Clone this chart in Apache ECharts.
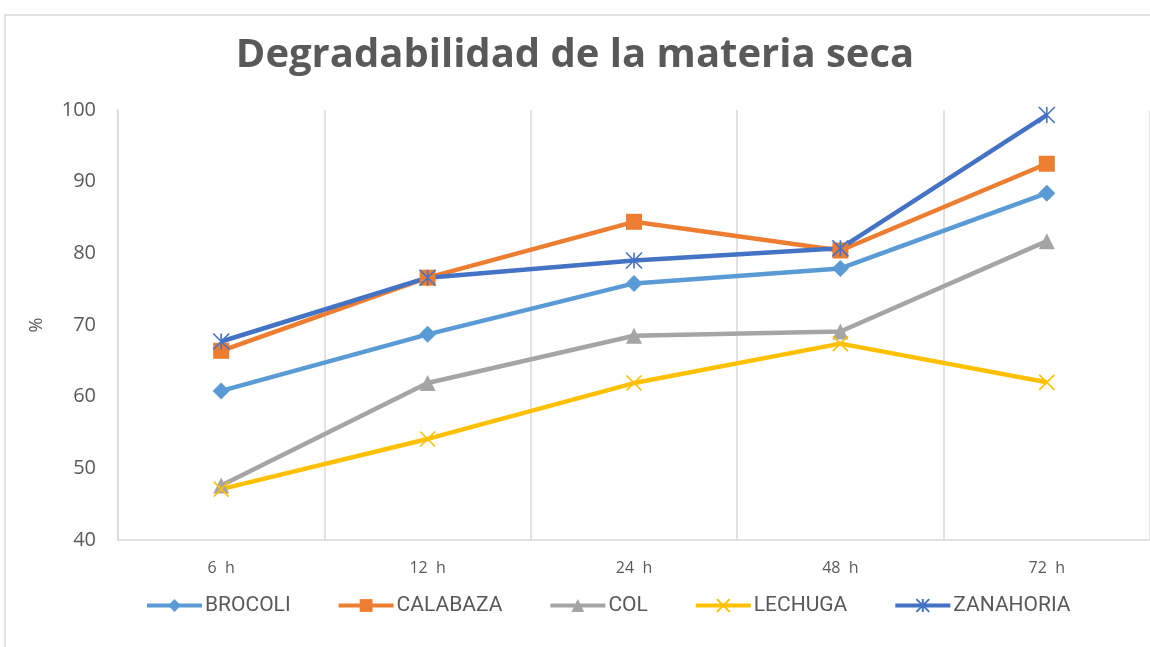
<!DOCTYPE html>
<html>
<head>
<meta charset="utf-8">
<script src="https://cdn.jsdelivr.net/npm/echarts@6/dist/echarts.min.js"></script>
<style>
html, body { margin: 0; padding: 0; background: #fff; }
#chart { width: 1150px; height: 647px; }
</style>
</head>
<body>
<div id="chart"></div>
<script>
// datos
const horas = ['6  h', '12  h', '24  h', '48  h', '72  h'];
const brocoli = [60.8, 68.7, 75.8, 77.9, 88.4];
const calabaza = [66.4, 76.6, 84.4, 80.4, 92.5];
const col = [47.6, 61.9, 68.5, 69.1, 81.7];
const lechuga = [47.1, 54.1, 61.9, 67.4, 62.0];
const zanahoria = [67.7, 76.6, 79.0, 80.7, 99.3];

const simboloX = 'path://M0,0L10,10M10,0L0,10';
const simboloAsterisco = 'path://M5,0L5,10M0,0L10,10M10,0L0,10';

const chart = echarts.init(document.getElementById('chart'));

function serie(nombre, datos, color, symbol, size, stroke) {
  return {
    name: nombre,
    type: 'line',
    data: datos,
    symbol: symbol,
    symbolSize: size,
    showAllSymbol: true,
    lineStyle: { color: color, width: 4.5 },
    itemStyle: stroke
      ? { color: 'rgba(0,0,0,0)', borderColor: color, borderWidth: 1.6 }
      : { color: color, borderWidth: 0 },
    emphasis: { disabled: true }
  };
}

const option = {
  animation: false,
  backgroundColor: '#fff',
  textStyle: { fontFamily: 'Open Sans' },
  title: {
    text: 'Degradabilidad de la materia seca',
    left: 'center',
    top: 31,
    textStyle: {
      fontFamily: 'Open Sans',
      fontSize: 40,
      fontWeight: 'bold',
      color: '#595959'
    }
  },
  graphic: [
    {
      type: 'rect',
      shape: { x: 5, y: 15, width: 1300, height: 800 },
      style: { fill: 'none', stroke: '#D9D9D9', lineWidth: 1.5 },
      silent: true
    }
  ],
  legend: {
    left: 140,
    top: 590,
    itemWidth: 55,
    itemHeight: 16,
    itemGap: 46,
    lineStyle: { width: 4 },
    textStyle: { fontFamily: 'Roboto', fontSize: 21, color: '#595959', padding: [0, 0, 0, -2] },
    data: ['BROCOLI', 'CALABAZA', 'COL', 'LECHUGA', 'ZANAHORIA']
  },
  grid: { left: 118, top: 110, width: 1035, height: 430 },
  xAxis: {
    type: 'category',
    data: horas,
    boundaryGap: true,
    axisLine: { lineStyle: { color: '#D9D9D9', width: 1.5 } },
    axisTick: { show: false },
    axisLabel: { color: '#595959', fontSize: 16, margin: 20, fontFamily: 'Open Sans' },
    splitLine: { show: true, lineStyle: { color: '#D9D9D9', width: 1.5 } }
  },
  yAxis: {
    type: 'value',
    min: 40,
    max: 100,
    interval: 10,
    name: '%',
    nameLocation: 'middle',
    nameRotate: 90,
    nameGap: 72,
    nameTextStyle: { color: '#595959', fontSize: 18 },
    axisLine: { show: true, lineStyle: { color: '#D9D9D9', width: 1.5 } },
    axisTick: { show: false },
    axisLabel: { color: '#595959', fontSize: 20, margin: 22, fontFamily: 'Open Sans' },
    splitLine: { show: false }
  },
  series: [
    serie('BROCOLI', brocoli, '#5B9BD5', 'diamond', 17, false),
    serie('CALABAZA', calabaza, '#ED7D31', 'rect', 16, false),
    serie('COL', col, '#A5A5A5', 'triangle', 16, false),
    serie('LECHUGA', lechuga, '#FFC000', simboloX, 15, true),
    serie('ZANAHORIA', zanahoria, '#4472C4', simboloAsterisco, 16, true)
  ]
};

chart.setOption(option);
</script>
</body>
</html>
